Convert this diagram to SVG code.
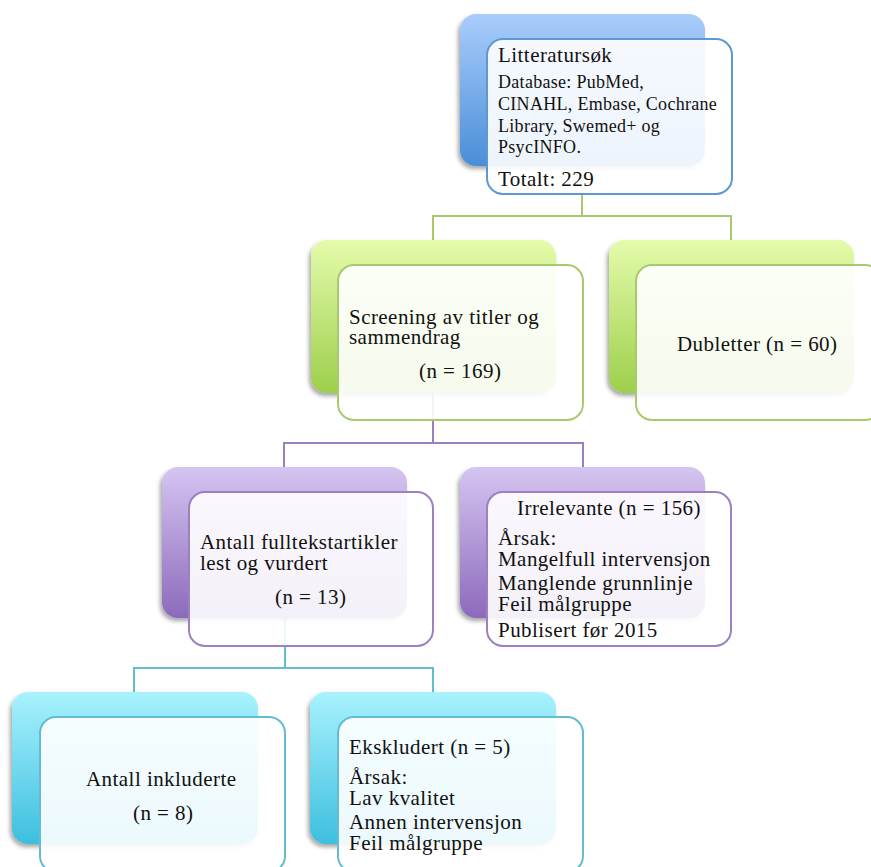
<svg xmlns="http://www.w3.org/2000/svg" width="871" height="867" viewBox="0 0 871 867">
<style>
.t{font-family:"Liberation Serif","Times New Roman",serif;font-size:21px;letter-spacing:0.45px;fill:#111}
.s{font-size:18px;letter-spacing:0.3px}
.front{fill:#fff;fill-opacity:0.9;stroke-width:2}
.conn{fill:none;stroke-width:2}
</style>
<defs>
<linearGradient id="gB" x1="0" y1="0" x2="0" y2="1"><stop offset="0" stop-color="#aacdfc"/><stop offset="1" stop-color="#4a8ed8"/></linearGradient>
<linearGradient id="gG" x1="0" y1="0" x2="0" y2="1"><stop offset="0" stop-color="#e5fbab"/><stop offset="1" stop-color="#9ccf4b"/></linearGradient>
<linearGradient id="gP" x1="0" y1="0" x2="0" y2="1"><stop offset="0" stop-color="#d5c5f1"/><stop offset="1" stop-color="#8c6abc"/></linearGradient>
<linearGradient id="gC" x1="0" y1="0" x2="0" y2="1"><stop offset="0" stop-color="#a8f2fd"/><stop offset="1" stop-color="#3dbfdf"/></linearGradient>
<filter id="sh" x="-10%" y="-10%" width="120%" height="125%"><feDropShadow dx="-2" dy="3" stdDeviation="2" flood-color="#000" flood-opacity="0.35"/></filter>
</defs>
<g id="connectors">
<path class="conn" stroke="#a8c96c" d="M582,166 V216 M433,216 H731 M433,215 V240 M731,215 V240"/>
<path class="conn" stroke="#9b80c1" d="M433,393 V443 M284,443 H583 M284,442 V467 M583,442 V467"/>
<path class="conn" stroke="#60bdd4" d="M285,618 V668 M134,668 H433 M134,667 V692 M433,667 V692"/>
</g>
<g id="n1">
<rect x="460" y="14" width="245" height="152" rx="16" fill="url(#gB)" filter="url(#sh)"/>
<rect class="front" x="487" y="39" width="245" height="155" rx="16" stroke="#5f98d0"/>
<text class="t" x="498" y="62">Litteratursøk</text>
<text class="t s" x="498" y="88">Database: PubMed,</text>
<text class="t s" x="498" y="110">CINAHL, Embase, Cochrane</text>
<text class="t s" x="498" y="132">Library, Swemed+ og</text>
<text class="t s" x="498" y="153">PsycINFO.</text>
<text class="t" x="498" y="186">Totalt: 229</text>
</g>
<g id="n2">
<rect x="311" y="240" width="245" height="153" rx="16" fill="url(#gG)" filter="url(#sh)"/>
<rect class="front" x="338" y="265" width="245" height="155" rx="16" stroke="#a9c96f"/>
<text class="t" x="349" y="324">Screening av titler og</text>
<text class="t" x="349" y="344">sammendrag</text>
<text class="t" x="419" y="378">(n = 169)</text>
</g>
<g id="n3">
<rect x="609" y="240" width="245" height="153" rx="16" fill="url(#gG)" filter="url(#sh)"/>
<rect class="front" x="636" y="265" width="245" height="155" rx="16" stroke="#a9c96f"/>
<text class="t" x="677" y="351">Dubletter (n = 60)</text>
</g>
<g id="n4">
<rect x="162" y="467" width="245" height="151" rx="16" fill="url(#gP)" filter="url(#sh)"/>
<rect class="front" x="189" y="492" width="244" height="154" rx="16" stroke="#9c80c2"/>
<text class="t" x="200" y="549">Antall fulltekstartikler</text>
<text class="t" x="200" y="570">lest og vurdert</text>
<text class="t" x="275" y="604">(n = 13)</text>
</g>
<g id="n5">
<rect x="460" y="467" width="245" height="151" rx="16" fill="url(#gP)" filter="url(#sh)"/>
<rect class="front" x="487" y="492" width="244" height="154" rx="16" stroke="#9c80c2"/>
<text class="t" x="609" y="515" text-anchor="middle">Irrelevante (n = 156)</text>
<text class="t" x="498" y="545">Årsak:</text>
<text class="t" x="498" y="566">Mangelfull intervensjon</text>
<text class="t" x="498" y="590">Manglende grunnlinje</text>
<text class="t" x="498" y="611">Feil målgruppe</text>
<text class="t" x="498" y="637">Publisert før 2015</text>
</g>
<g id="n6">
<rect x="12" y="692" width="246" height="152" rx="16" fill="url(#gC)" filter="url(#sh)"/>
<rect class="front" x="40" y="717" width="245" height="155" rx="16" stroke="#63bcd2"/>
<text class="t" x="86" y="786">Antall inkluderte</text>
<text class="t" x="133" y="820">(n = 8)</text>
</g>
<g id="n7">
<rect x="310" y="692" width="246" height="152" rx="16" fill="url(#gC)" filter="url(#sh)"/>
<rect class="front" x="338" y="717" width="245" height="155" rx="16" stroke="#63bcd2"/>
<text class="t" x="349" y="754">Ekskludert (n = 5)</text>
<text class="t" x="349" y="784">Årsak:</text>
<text class="t" x="349" y="805">Lav kvalitet</text>
<text class="t" x="349" y="829">Annen intervensjon</text>
<text class="t" x="349" y="850">Feil målgruppe</text>
</g>
</svg>
